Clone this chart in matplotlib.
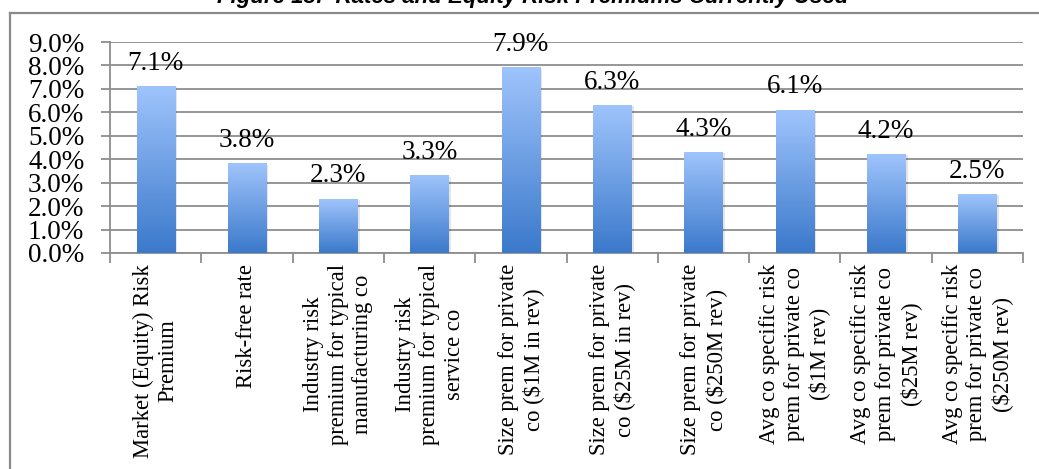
import numpy as np
import matplotlib
matplotlib.use("Agg")
import matplotlib.pyplot as plt
from matplotlib.colors import LinearSegmentedColormap
from matplotlib.lines import Line2D

# Figure 13 data: rates and premiums in percent
categories = [
    "Market (Equity) Risk\nPremium",
    "Risk-free rate",
    "Industry risk\npremium for typical\nmanufacturing co",
    "Industry risk\npremium for typical\nservice co",
    "Size prem for private\nco ($1M in rev)",
    "Size prem for private\nco ($25M in rev)",
    "Size prem for private\nco ($250M rev)",
    "Avg co specific risk\nprem for private co\n($1M rev)",
    "Avg co specific risk\nprem for private co\n($25M rev)",
    "Avg co specific risk\nprem for private co\n($250M rev)",
]
values = [7.1, 3.8, 2.3, 3.3, 7.9, 6.3, 4.3, 6.1, 4.2, 2.5]
y_ticks = [0, 1, 2, 3, 4, 5, 6, 7, 8, 9]

title = "Figure 13:  Rates and Equity Risk Premiums Currently Used"

serif = "Liberation Serif"
grid_col = "#8e8e8e"

fig = plt.figure(figsize=(10.39, 4.69), dpi=100)
ax = fig.add_axes([0.1059, 0.4606, 0.8787, 0.4498])

x = np.arange(len(values))
bw = 0.42

# gradient bars, light at the top, darker at the base
cmap = LinearSegmentedColormap.from_list("barblue", ["#3b79cb", "#9fc4fc"])
grad = np.linspace(1, 0, 256).reshape(-1, 1)
for xi, v in zip(x, values):
    # soft shadow to the right
    ax.add_patch(plt.Rectangle((xi - bw / 2 + 0.025, 0), bw, v - 0.04,
                               color="#000000", alpha=0.10, lw=0, zorder=2))
    ax.imshow(grad, cmap=cmap, extent=[xi - bw / 2, xi + bw / 2, 0, v],
              aspect="auto", zorder=3, interpolation="bilinear")
    ax.annotate(f"{v:.1f}%", (xi, v), xytext=(0, 12), textcoords="offset points",
                ha="center", va="baseline", fontsize=19.5, family=serif, zorder=4)

ax.set_xlim(-0.5, len(values) - 0.5)
ax.set_ylim(0, 9)

ax.set_yticks(y_ticks)
ax.set_yticklabels([f"{t:.1f}%" for t in y_ticks], family=serif, fontsize=19.5)
ax.yaxis.grid(True, color=grid_col, lw=1.3, zorder=1)
ax.set_axisbelow(True)

# category ticks sit on the boundaries, labels centred under bars
ax.set_xticks(np.arange(len(values) + 1) - 0.5)
ax.set_xticklabels([])
ax.set_xticks(x, minor=True)
ax.set_xticklabels(categories, minor=True, rotation=90, family=serif,
                   fontsize=16.3, ha="center", va="top", multialignment="center",
                   linespacing=1.22)
ax.tick_params(axis="x", which="minor", length=0, pad=8)
ax.tick_params(axis="x", which="major", length=7, width=1.3, color=grid_col)
ax.tick_params(axis="y", length=6.5, width=1.3, color=grid_col, pad=12)

for side in ("top", "right"):
    ax.spines[side].set_visible(False)
for side in ("left", "bottom"):
    ax.spines[side].set_color(grid_col)
    ax.spines[side].set_linewidth(1.3)

# frame around the chart
W, H = 1039, 469
fig.add_artist(Line2D([10 / W, 1], [1 - 13 / H, 1 - 13 / H], color="#8a8a8a", lw=1.6))
fig.add_artist(Line2D([10 / W, 10 / W], [0, 1 - 13 / H], color="#8a8a8a", lw=1.6))

fig.text(533 / W, 1 - 3 / H, title, ha="center", va="baseline",
         family="Liberation Sans", fontweight="bold", fontstyle="italic", fontsize=16)

fig.savefig("out.png", dpi=100)
